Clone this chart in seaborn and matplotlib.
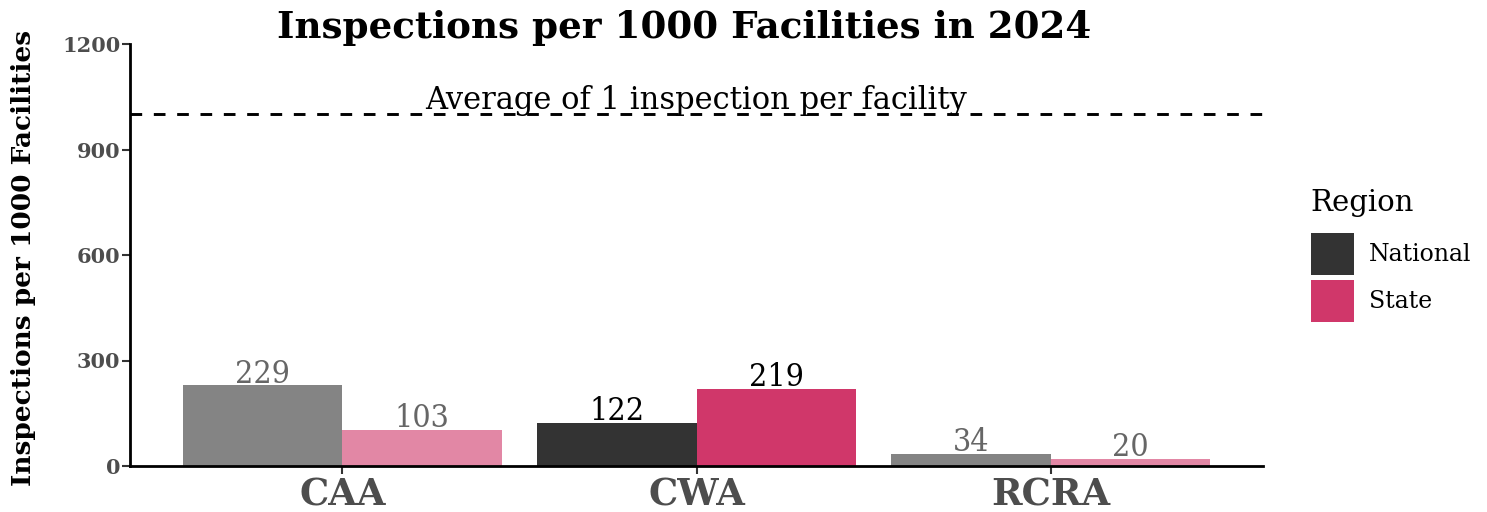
import matplotlib
matplotlib.use("Agg")
import matplotlib.pyplot as plt
import seaborn as sns
import pandas as pd
from matplotlib.patches import Patch

# data
statutes = ["CAA", "CWA", "RCRA"]
national = [229, 122, 34]
state = [103, 219, 20]
regions = ["National", "State"]
highlight = "CWA"

colors = {"National": "#333333", "State": "#D0376A"}

df = pd.DataFrame({
    "statute": statutes * 2,
    "region": ["National"] * 3 + ["State"] * 3,
    "value": national + state,
})

sns.set_theme(style="white")
plt.rcParams["font.family"] = ["DejaVu Serif"]
plt.rcParams["text.color"] = "black"
plt.rcParams["axes.labelcolor"] = "black"

fig = plt.figure(figsize=(14.87, 5.12), dpi=100)
ax = fig.add_axes([130 / 1487, 46 / 512, 1133 / 1487, 422 / 512])

sns.barplot(
    data=df, x="statute", y="value", hue="region",
    order=statutes, hue_order=regions, palette=colors,
    width=0.9, gap=0, saturation=1, legend=False, ax=ax,
)

# fade the non-highlighted bars and label values
for container, reg in zip(ax.containers, regions):
    for bar, stat in zip(container, statutes):
        bar.set_edgecolor("none")
        on = stat == highlight
        if not on:
            bar.set_alpha(0.6)
        h = bar.get_height()
        ax.annotate(f"{int(h)}", (bar.get_x() + bar.get_width() / 2, h),
                    xytext=(0, 2), textcoords="offset points",
                    ha="center", va="baseline", fontsize=23,
                    fontstretch="condensed",
                    color="black" if on else "#666666")

ax.axhline(1000, color="black", linestyle=(0, (4, 4)), linewidth=2.1)
ax.annotate("Average of 1 inspection per facility", (1, 1000),
            xytext=(0, 4), textcoords="offset points", ha="center",
            va="baseline", fontsize=22, color="black")

ax.set_xlim(-0.6, 2.6)
ax.set_ylim(0, 1200)
ax.set_yticks([0, 300, 600, 900, 1200])
ax.set_xlabel("")
ax.set_ylabel("Inspections per 1000 Facilities", fontsize=19, fontweight="bold")
ax.yaxis.set_label_coords(-0.083, 0.492)

for s in ["top", "right"]:
    ax.spines[s].set_visible(False)
for s in ["left", "bottom"]:
    ax.spines[s].set_color("black")
    ax.spines[s].set_linewidth(2)

ax.tick_params(axis="both", which="both", left=True, bottom=True, length=6,
               width=1.5, color="#333333")
ax.tick_params(axis="y", labelsize=15, labelcolor="#4D4D4D", pad=1)
ax.tick_params(axis="x", labelsize=26.5, labelcolor="#4D4D4D", pad=2)
for t in ax.get_yticklabels():
    t.set_fontweight("bold")
for t in ax.get_xticklabels():
    t.set_fontweight("bold")

fig.text(684 / 1487, 1 - 28 / 512, "Inspections per 1000 Facilities in 2024",
         ha="center", va="center", fontsize=26.8, fontweight="bold")

# legend: title drawn separately so the gap to the keys matches
fig.text(1310 / 1487, 1 - 211 / 512, "Region", ha="left", va="baseline",
         fontsize=21)
handles = [Patch(facecolor=colors[r], edgecolor="none") for r in regions]
leg = fig.legend(handles, regions, loc="upper left",
                 bbox_to_anchor=(1311 / 1487, 1 - 233 / 512), frameon=False,
                 borderpad=0, borderaxespad=0,
                 fontsize=17, handlelength=1.82,
                 handleheight=2.36, handletextpad=0.65, labelspacing=0.2)
for t in leg.get_texts():
    t.set_color("black")

fig.savefig("out.png", dpi=100)
